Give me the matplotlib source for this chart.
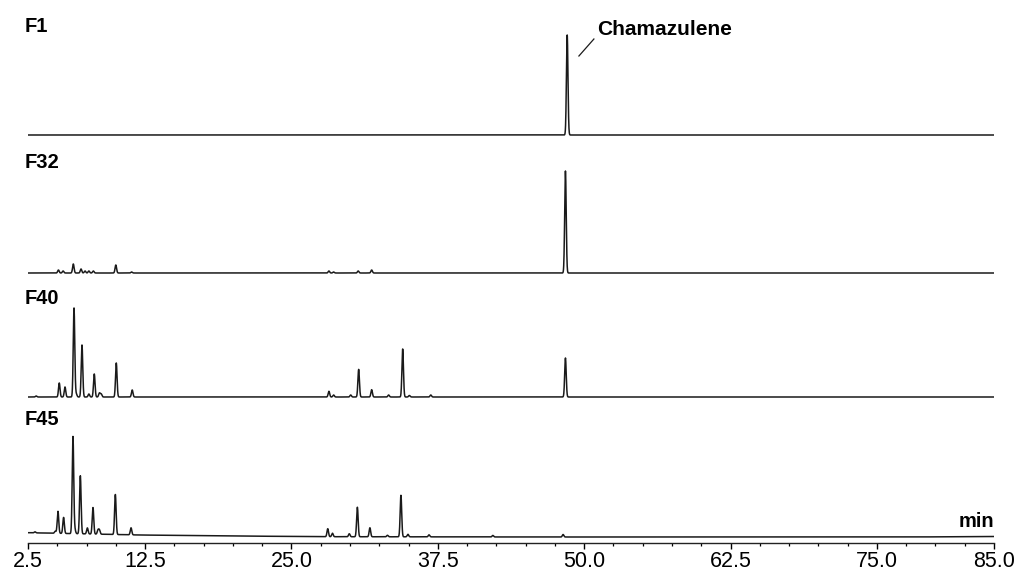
import numpy as np
import matplotlib.pyplot as plt

# retention times (min) and peak heights
f1_rt = [48.55]
f1_h = [100]

f32_rt = [5.1, 5.5, 6.37, 7.03, 7.37, 7.7, 8.08, 10.0, 11.35, 28.2, 28.6, 30.7, 31.85, 48.4]
f32_h = [3, 2, 9, 4, 2, 2, 2, 8, 1, 2, 1, 2, 3, 102]

f40_rt = [3.2, 5.17, 5.66, 6.43, 6.62, 7.11, 7.7, 8.16, 8.6, 8.75, 10.04, 11.4,
          28.2, 28.6, 30.06, 30.74, 31.85, 33.3, 34.5, 35.07, 36.9, 48.4]
f40_h = [1, 14, 10, 89, 3, 52, 3, 23, 4, 3, 34, 7,
         5.7, 2, 2, 27.6, 7.3, 2, 48, 1.5, 2, 39]

f45_rt = [3.1, 4.83, 5.06, 5.54, 6.34, 6.5, 6.97, 7.57, 8.05, 8.48, 8.6, 9.96, 11.3,
          28.1, 28.5, 29.94, 30.63, 31.7, 33.2, 34.35, 34.95, 36.75, 42.2, 48.2]
f45_h = [1, 2, 22, 16, 97, 4, 58, 6, 26.5, 4, 4, 40, 7,
         8, 3.5, 3, 29.5, 9, 1.5, 41.5, 2.5, 2, 1.5, 2.5]

# F45 baseline drift (min, height)
f45_drift_t = [2.5, 12.0, 20.0, 28.0, 45.0, 78.0, 85.0]
f45_drift_y = [4.3, 2.0, 1.0, 0.3, 0.0, 0.0, 0.5]

names = ["F1", "F32", "F40", "F45"]
ticks = [2.5, 12.5, 25.0, 37.5, 50.0, 62.5, 75.0, 85.0]

plt.rcParams['font.family'] = ['Liberation Sans', 'DejaVu Sans']

t = np.arange(2.5, 85.0001, 0.01)
sig = 0.065


def trace(rt, h):
    y = np.zeros_like(t)
    for r, a in zip(rt, h):
        y += a * np.exp(-0.5 * ((t - r) / sig) ** 2)
    return y


fig = plt.figure(figsize=(10.14, 5.72), dpi=100)
ax = fig.add_axes([28 / 1014, 29 / 572, 966 / 1014, 543 / 572])
ax.set_xlim(2.5, 85.0)
ax.set_ylim(0, 543)

col = '#1a1a1a'
lw = 1.1
ax.plot(t, 408 + trace(f1_rt, f1_h), color=col, lw=lw)
ax.plot(t, 270 + trace(f32_rt, f32_h), color=col, lw=lw)
ax.plot(t, 146 + trace(f40_rt, f40_h), color=col, lw=lw)
ax.plot(t, 6 + np.interp(t, f45_drift_t, f45_drift_y) + trace(f45_rt, f45_h), color=col, lw=lw)

# series labels
for name, ypix in zip(names, [17, 153, 289, 410]):
    ax.text(2.25, 543 - ypix, name, fontsize=14.5, fontweight='bold', va='top', ha='left')

ax.text(51.1, 543 - 35, "Chamazulene", fontsize=15, fontweight='bold', va='baseline', ha='left')
ax.plot([49.55, 50.83], [543 - 56, 543 - 39], color=col, lw=0.9)
ax.text(85.0, 16, "min", fontsize=14.5, fontweight='bold', va='baseline', ha='right')

for s in ['left', 'top', 'right']:
    ax.spines[s].set_visible(False)
ax.spines['bottom'].set_linewidth(1.0)
ax.spines['bottom'].set_color('#222222')
ax.set_yticks([])
ax.set_xticks(ticks)
ax.set_xticklabels(["%.1f" % v for v in ticks], fontsize=15.5)
ax.set_xticks(np.arange(2.5, 85.01, 2.5), minor=True)
ax.tick_params(axis='x', which='major', length=4, width=1.0, pad=2.0, direction='out')
ax.tick_params(axis='x', which='minor', length=2.5, width=0.9, direction='out')
ax.patch.set_alpha(0)

fig.savefig("out.png", dpi=100)
